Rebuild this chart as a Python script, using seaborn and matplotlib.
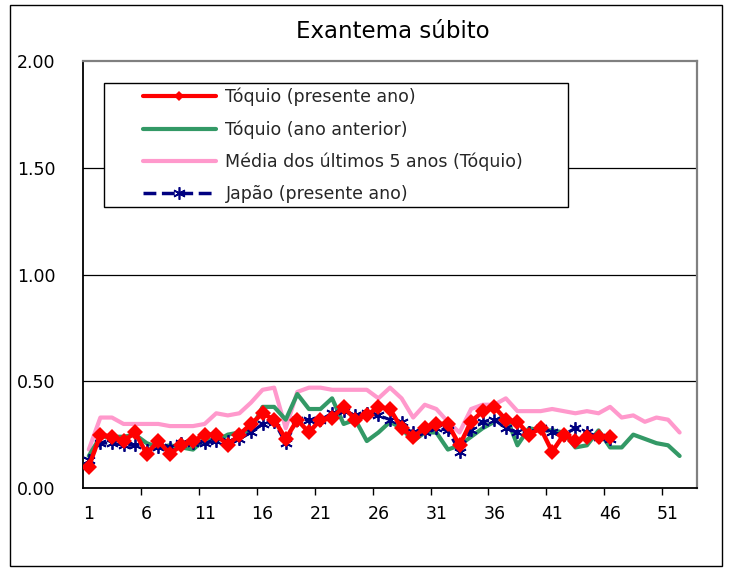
import numpy as np
import pandas as pd
import matplotlib
matplotlib.use("Agg")
import matplotlib.pyplot as plt
from matplotlib.lines import Line2D
from matplotlib.patches import Rectangle
import seaborn as sns

# weekly values
weeks_present = list(range(1, 47))
weeks_full = list(range(1, 53))

tokyo_present = [0.10, 0.25, 0.24, 0.22, 0.26, 0.16, 0.22, 0.16, 0.20, 0.22,
                 0.25, 0.25, 0.20, 0.25, 0.30, 0.35, 0.32, 0.23, 0.32, 0.26,
                 0.32, 0.33, 0.38, 0.32, 0.34, 0.38, 0.37, 0.28, 0.24, 0.28,
                 0.30, 0.30, 0.20, 0.31, 0.36, 0.38, 0.32, 0.31, 0.25, 0.28,
                 0.17, 0.25, 0.22, 0.24, 0.24, 0.24]

tokyo_prev = [0.15, 0.24, 0.24, 0.24, 0.25, 0.21, 0.19, 0.20, 0.19, 0.18,
              0.23, 0.22, 0.25, 0.26, 0.27, 0.38, 0.38, 0.32, 0.44, 0.37,
              0.37, 0.42, 0.30, 0.32, 0.22, 0.26, 0.31, 0.28, 0.22, 0.26,
              0.26, 0.18, 0.20, 0.24, 0.28, 0.31, 0.34, 0.20, 0.28, 0.27,
              0.27, 0.26, 0.19, 0.20, 0.27, 0.19, 0.19, 0.25, 0.23, 0.21,
              0.20, 0.15]

tokyo_5yr = [0.18, 0.33, 0.33, 0.30, 0.30, 0.30, 0.30, 0.29, 0.29, 0.29,
             0.30, 0.35, 0.34, 0.35, 0.40, 0.46, 0.47, 0.28, 0.45, 0.47,
             0.47, 0.46, 0.46, 0.46, 0.46, 0.42, 0.47, 0.42, 0.33, 0.39,
             0.37, 0.31, 0.26, 0.37, 0.39, 0.39, 0.42, 0.36, 0.36, 0.36,
             0.37, 0.36, 0.35, 0.36, 0.35, 0.38, 0.33, 0.34, 0.31, 0.33,
             0.32, 0.26]

japan_present = [0.13, 0.21, 0.21, 0.20, 0.20, 0.18, 0.19, 0.19, 0.21, 0.21,
                 0.21, 0.22, 0.22, 0.23, 0.26, 0.30, 0.31, 0.21, 0.32, 0.32,
                 0.32, 0.35, 0.36, 0.34, 0.35, 0.34, 0.32, 0.31, 0.26, 0.26,
                 0.28, 0.27, 0.17, 0.27, 0.31, 0.32, 0.28, 0.26, 0.26, 0.28,
                 0.26, 0.25, 0.28, 0.26, 0.24, 0.23]

labels = ["Tóquio (presente ano)", "Tóquio (ano anterior)",
          "Média dos últimos 5 anos (Tóquio)", "Japão (presente ano)"]
colors = ["#FF0000", "#339966", "#FF99CC", "#000080"]

W, H = 732, 569
def fx(x):
    return x / W
def fy(y):
    return 1 - y / H

sns.set_theme(style="white")
plt.rcParams['font.family'] = ['DejaVu Sans']

fig = plt.figure(figsize=(W / 100, H / 100), dpi=100)
ax = fig.add_axes([fx(83), fy(488), fx(697) - fx(83), fy(61) - fy(488)])

sns.lineplot(x=weeks_full, y=tokyo_5yr, ax=ax, color=colors[2], lw=3,
             legend=False, zorder=2)
sns.lineplot(x=weeks_full, y=tokyo_prev, ax=ax, color=colors[1], lw=3,
             legend=False, zorder=3)
sns.lineplot(x=weeks_present, y=japan_present, ax=ax, color=colors[3], lw=2.2,
             linestyle="--", marker=(6, 2, 0), markersize=9, markeredgewidth=1.3,
             markeredgecolor=colors[3], legend=False, zorder=4)
sns.lineplot(x=weeks_present, y=tokyo_present, ax=ax, color=colors[0], lw=3.2,
             marker="D", markersize=8.5, markeredgewidth=0, legend=False, zorder=5)

ax.set_xlim(0.5, 53.5)
ax.set_ylim(0, 2)
ax.set_yticks([0, 0.5, 1.0, 1.5, 2.0])
ax.set_yticklabels(["0.00", "0.50", "1.00", "1.50", "2.00"])
ax.set_xticks(list(range(1, 53, 5)))
ax.set_xticklabels([str(v) for v in range(1, 53, 5)])
ax.set_xticks([5.5 + 5 * i for i in range(10)], minor=True)
ax.tick_params(axis="x", which="major", length=0, pad=12, labelsize=12.5, colors="black")
ax.tick_params(axis="x", which="minor", length=5, width=1, direction="out",
               color="black", bottom=True)
ax.tick_params(axis="y", length=0, pad=20, labelsize=12.5, colors="black")
ax.set_xlabel("")
ax.set_ylabel("")

ax.grid(False)
for v in [0.5, 1.0, 1.5]:
    ax.axhline(v, color="black", lw=0.9, zorder=1)

ax.spines["left"].set_color("black")
ax.spines["bottom"].set_color("black")
ax.spines["left"].set_linewidth(1.3)
ax.spines["bottom"].set_linewidth(1.3)
ax.spines["top"].set_color("#808080")
ax.spines["right"].set_color("#808080")
ax.spines["top"].set_linewidth(1.6)
ax.spines["right"].set_linewidth(1.6)

# legend box
box = Rectangle((fx(104), fy(207)), fx(568) - fx(104), fy(83) - fy(207),
                transform=fig.transFigure, facecolor="white", edgecolor="black",
                lw=1, zorder=6, clip_on=False)
ax.add_patch(box)

handles = [
    Line2D([], [], color=colors[0], lw=3, marker="D", markersize=5, markeredgewidth=0),
    Line2D([], [], color=colors[1], lw=3),
    Line2D([], [], color=colors[2], lw=3),
    Line2D([], [], color=colors[3], lw=2.5, linestyle="--", marker=(6, 2, 0),
           markersize=9, markeredgewidth=1.2),
]
leg = fig.legend(handles, labels, loc="upper left",
                 bbox_to_anchor=(fx(143), fy(88)), frameon=False,
                 borderaxespad=0, borderpad=0, handlelength=4.2,
                 handletextpad=0.55, labelspacing=0.8, fontsize=12.5)
leg.set_zorder(10)

fig.text(fx(393), fy(31), "Exantema súbito", ha="center", va="center",
         fontsize=16.5, color="black")

fig.patches.append(Rectangle((fx(10), fy(566)), fx(722) - fx(10), fy(5) - fy(566),
                             transform=fig.transFigure, fill=False,
                             edgecolor="black", lw=1))

fig.savefig("out.png", dpi=100)
